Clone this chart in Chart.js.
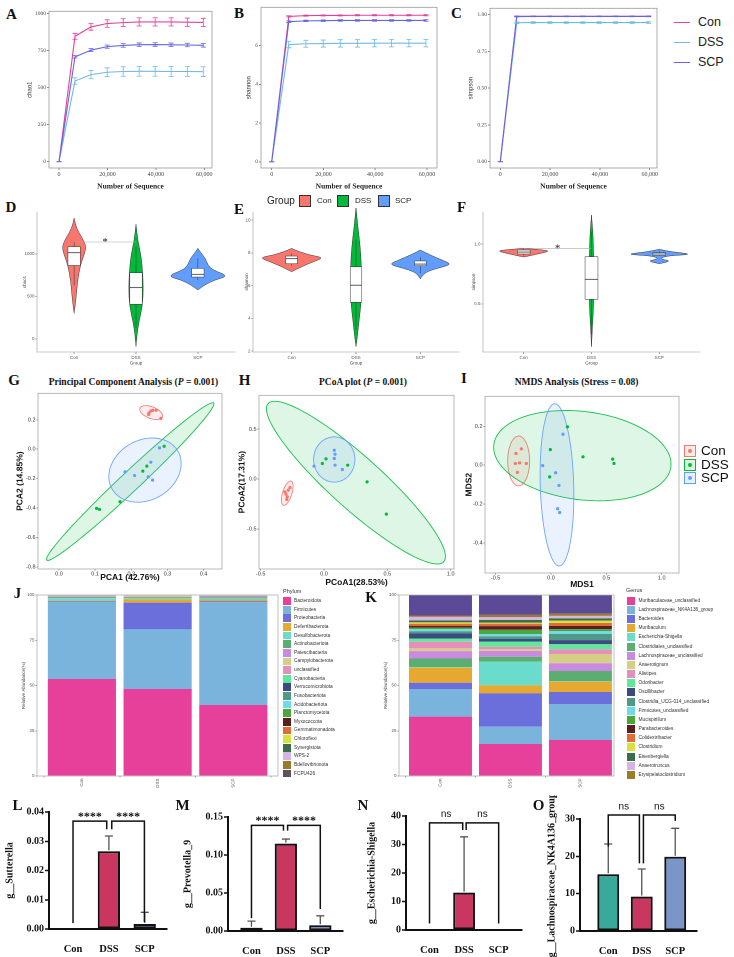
<!DOCTYPE html>
<html>
<head>
<meta charset="utf-8">
<title>Microbiota figure</title>
<script src="https://cdn.jsdelivr.net/npm/chart.js@4.4.1/dist/chart.umd.min.js"></script>
<style>
  html, body { margin: 0; padding: 0; background: #fff; }
  body { position: relative; width: 734px; height: 957px; overflow: hidden; font-family: "Liberation Sans", Arial, sans-serif; color: #222; }
  canvas { position: absolute; }
  .t { position: absolute; white-space: nowrap; line-height: 1; }
  .c { transform: translate(-50%, -50%); }
  .m { transform: translateY(-50%); }
  .letter { font: bold 15px "Liberation Serif", serif; color: #111; }
  .ttl { font: bold 9.5px "Liberation Serif", serif; color: #111; }
  .sw { position: absolute; box-sizing: border-box; }
</style>
</head>
<body>
<script>
const SERIF = '"Liberation Serif", "Times New Roman", serif';
const SANS = '"Liberation Sans", Arial, sans-serif';

// ---------- shared ----------
const groups = ['Con', 'DSS', 'SCP'];
const groupPos = [1, 2, 3];
const lineColors = ['#e4409a', '#6fb9e2', '#6565e4'];
const ggColors = ['#f8766d', '#00ba38', '#619cff'];
const barColors = ['#38a99a', '#c9365f', '#7c95c7'];

// ---------- A-C rarefaction curves ----------
const seqDepth = [0, 6600, 13200, 19900, 26500, 33100, 39700, 46300, 53000, 59600];
const seqTicks = [0, 20000, 40000, 60000];
const chaoCon = [0, 847, 910, 933, 939, 944, 944, 944, 942, 940];
const chaoDSS = [0, 545, 588, 604, 609, 610, 610, 609, 609, 608];
const chaoSCP = [0, 708, 753, 777, 785, 790, 791, 789, 788, 786];
const chaoConSd = [0, 20, 22, 25, 26, 28, 28, 28, 28, 28];
const chaoDSSSd = [0, 22, 28, 30, 32, 33, 33, 33, 33, 33];
const chaoSCPSd = [0, 8, 10, 11, 12, 12, 12, 12, 12, 12];
const shanCon = [0, 7.50, 7.54, 7.55, 7.55, 7.56, 7.56, 7.56, 7.56, 7.56];
const shanDSS = [0, 6.05, 6.09, 6.10, 6.11, 6.11, 6.12, 6.12, 6.12, 6.12];
const shanSCP = [0, 7.23, 7.27, 7.28, 7.29, 7.29, 7.29, 7.29, 7.29, 7.29];
const shanConSd = [0, 0.03, 0.03, 0.03, 0.03, 0.03, 0.03, 0.03, 0.03, 0.03];
const shanDSSSd = [0, 0.17, 0.18, 0.18, 0.19, 0.19, 0.19, 0.19, 0.19, 0.19];
const shanSCPSd = [0, 0.04, 0.04, 0.04, 0.04, 0.04, 0.04, 0.04, 0.04, 0.04];
const simpCon = [0, 0.989, 0.989, 0.989, 0.989, 0.989, 0.989, 0.989, 0.989, 0.989];
const simpDSS = [0, 0.945, 0.946, 0.946, 0.946, 0.946, 0.946, 0.946, 0.946, 0.946];
const simpSCP = [0, 0.987, 0.988, 0.988, 0.988, 0.988, 0.988, 0.988, 0.988, 0.988];
const simpConSd = [0, 0.002, 0.002, 0.002, 0.002, 0.002, 0.002, 0.002, 0.002, 0.002];
const simpDSSSd = [0, 0.005, 0.005, 0.005, 0.005, 0.005, 0.005, 0.005, 0.005, 0.005];
const simpSCPSd = [0, 0.002, 0.002, 0.002, 0.002, 0.002, 0.002, 0.002, 0.002, 0.002];
const chaoTicks = [0, 250, 500, 750, 1000];
const shanTicks = [0, 2, 4, 6];
const simpTicks = [0, 0.25, 0.5, 0.75, 1];

// ---------- D-F violins (y value, half width in group units) ----------
const chaoVioY = [
  [1424, 1302, 1185, 1086, 988, 870, 674, 478, 302],
  [1349, 1145, 988, 792, 596, 400, 204, 47, -90],
  [1067, 1008, 949, 870, 811, 741, 694, 635, 576]
];
const chaoVioW = [
  [0, 0.037, 0.134, 0.197, 0.161, 0.102, 0.053, 0.032, 0],
  [0, 0.032, 0.081, 0.108, 0.118, 0.108, 0.048, 0.016, 0],
  [0, 0.054, 0.121, 0.161, 0.242, 0.497, 0.269, 0.108, 0]
];
const chaoBox = [[865, 1015, 1086, 630, 1145], [408, 604, 780, 130, 1086], [729, 761, 831, 694, 949]];
const shanVioY = [
  [8.27, 8.07, 7.86, 7.70, 7.45, 7.15, 6.84],
  [10.8, 9.8, 8.8, 7.8, 6.8, 5.8, 4.8, 3.8, 2.8, 2.27],
  [8.17, 7.86, 7.56, 7.29, 7.05, 6.84, 6.68, 6.54, 6.40]
];
const shanVioW = [
  [0, 0.116, 0.283, 0.502, 0.335, 0.155, 0],
  [0, 0.023, 0.054, 0.077, 0.085, 0.085, 0.077, 0.046, 0.019, 0],
  [0, 0.155, 0.335, 0.495, 0.258, 0.103, 0.052, 0.021, 0]
];
const shanBox = [[7.33, 7.64, 7.80, 7.22, 7.95], [4.98, 6.02, 7.15, 3.3, 8.8], [7.21, 7.31, 7.50, 6.75, 7.76]];
const simpVioY = [
  [0.964, 0.953, 0.942, 0.922, 0.903, 0.892],
  [1.242, 1.103, 0.964, 0.70, 0.464, 0.325, 0.144],
  [0.956, 0.936, 0.914, 0.903, 0.885, 0.872, 0.858, 0.836]
];
const simpVioW = [
  [0, 0.246, 0.393, 0.246, 0.098, 0],
  [0, 0.02, 0.03, 0.035, 0.03, 0.015, 0],
  [0, 0.172, 0.504, 0.147, 0.02, 0.049, 0.172, 0]
];
const simpBox = [[0.917, 0.933, 0.95, 0.905, 0.96], [0.539, 0.706, 0.894, 0.25, 1.1], [0.905, 0.917, 0.928, 0.9, 0.94]];

// ---------- G-I ordination ----------
const pcaCon = [[0.249, 0.246], [0.254, 0.260], [0.260, 0.265], [0.269, 0.265], [0.282, 0.210], [0.248, 0.236]];
const pcaDSS = [[0.104, -0.402], [0.112, -0.409], [0.169, -0.357], [0.232, -0.149], [0.243, -0.115], [0.291, 0.020]];
const pcaSCP = [[0.183, -0.154], [0.209, -0.179], [0.247, -0.188], [0.254, -0.088], [0.259, -0.210], [0.278, 0.009]];
const pcoaCon = [[-0.308, -0.127], [-0.300, -0.150], [-0.290, -0.177], [-0.282, -0.110], [-0.268, -0.083], [-0.294, -0.203]];
const pcoaDSS = [[-0.013, 0.157], [0.016, 0.203], [0.187, 0.140], [0.340, -0.027], [0.492, -0.350]];
const pcoaSCP = [[-0.079, 0.130], [0.081, 0.290], [0.087, 0.250], [0.081, 0.207], [0.087, 0.140], [0.145, 0.097]];
const nmdsCon = [[-0.316, 0.060], [-0.268, 0.084], [-0.322, 0.009], [-0.283, 0.012], [-0.223, 0.009], [-0.304, -0.037]];
const nmdsDSS = [[0.148, 0.197], [-0.006, 0.080], [-0.012, -0.060], [0.289, 0.043], [0.557, 0.031], [0.569, 0.009]];
const nmdsSCP = [[0.108, 0.159], [-0.075, -0.002], [0.042, -0.039], [0.072, -0.104], [0.060, -0.224], [0.078, -0.243]];
// confidence ellipses: centre x, centre y, axis-1 (dx, dy), axis-2 (dx, dy)
const pcaEll = [[0.255, 0.249, 0.0313, -0.017, -0.0036, 0.044], [0.197, -0.220, 0.231, 0.534, 0.0185, -0.048], [0.238, -0.142, 0.091, 0.129, 0.0416, -0.176]];
const pcoaEll = [[-0.29, -0.14, 0.030, 0.121, 0.035, -0.014], [0.252, -0.035, 0.693, -0.792, 0.137, 0.193], [0.081, 0.197, 0.163, 0, 0, 0.227]];
const nmdsEll = [[-0.292, 0.022, 0.099, 0, 0, 0.128], [0.283, 0.049, 0.801, -0.043, 0, 0.228], [0.054, -0.101, 0.151, 0, -0.02, 0.417]];

// ---------- J phylum composition (%) ----------
const phyla = ['Bacteroidota', 'Firmicutes', 'Proteobacteria', 'Deferribacterota', 'Desulfobacterota', 'Actinobacteriota', 'Patescibacteria', 'Campylobacterota', 'unclassified', 'Cyanobacteria', 'Verrucomicrobiota', 'Fusobacteriota', 'Acidobacteriota', 'Planctomycetota', 'Myxococcota', 'Gemmatimonadota', 'Chloroflexi', 'Synergistota', 'WPS-2', 'Bdellovibrionota', 'FCPU426'];
const phylumCon = [53.6, 42.7, 0.4, 0.3, 1.3, 0.5, 0.5, 0.2, 0.2, 0.1, 0.05, 0.03, 0.03, 0.03, 0.02, 0.02, 0.02, 0.02, 0.02, 0.01, 0.01];
const phylumDSS = [48.1, 32.9, 14.8, 1.8, 0.7, 0.4, 0.3, 0.6, 0.2, 0.1, 0.03, 0.02, 0.02, 0.02, 0.01, 0.01, 0.01, 0.01, 0.01, 0.01, 0.01];
const phylumSCP = [39.2, 56.8, 0.6, 0.9, 0.9, 0.5, 0.6, 0.2, 0.2, 0.05, 0.03, 0.02, 0.02, 0.02, 0.01, 0.01, 0.01, 0.01, 0.01, 0.01, 0.01];
const phylumColors = ['#e6409b', '#7ab4dc', '#6b6fdc', '#e6a82e', '#6adccb', '#5aaf70', '#c98adf', '#d4cf85', '#e58fbd', '#5fe89a', '#3d4a80', '#4e9a87', '#6fdbe8', '#4aa73a', '#5a2020', '#e06d36', '#d8e23e', '#3a6e4a', '#d6b4e4', '#9a7b2a', '#5e5060'];

// ---------- K genus composition (%) ----------
const genera = ['Muribaculaceae_unclassified', 'Lachnospiraceae_NK4A136_group', 'Bacteroides', 'Muribaculum', 'Escherichia-Shigella', 'Clostridiales_unclassified', 'Lachnospiraceae_unclassified', 'Anaerotignum', 'Alistipes', 'Odoribacter', 'Oscillibacter', 'Clostridia_UCG-014_unclassified', 'Firmicutes_unclassified', 'Mucispirillum', 'Parabacteroides', 'Colidextribacter', 'Clostridium', 'Eisenbergiella', 'Anaerotruncus', 'Erysipelatoclostridium', 'Others'];
const genusCon = [32.8, 15.3, 3.4, 8.3, 0.3, 4.8, 4.1, 1.5, 3.7, 1.8, 2.8, 1.2, 1.1, 0.8, 1.0, 1.2, 0.8, 1.0, 2.0, 0.8, 11.3];
const genusDSS = [17.7, 9.6, 18.4, 4.4, 13.0, 2.8, 3.2, 1.1, 1.2, 2.9, 1.5, 1.3, 1.2, 2.5, 2.0, 1.3, 0.6, 1.5, 1.5, 1.3, 11.0];
const genusSCP = [19.9, 19.9, 6.6, 5.7, 0.2, 5.7, 4.3, 5.1, 2.6, 2.8, 2.3, 3.4, 1.6, 1.0, 1.8, 1.6, 1.4, 1.2, 1.4, 1.2, 10.3];
const genusColors = ['#e6409b', '#7ab4dc', '#6b6fdc', '#e6a82e', '#6adccb', '#5aaf70', '#c98adf', '#d4cf85', '#e58fbd', '#5fe89a', '#3d4a80', '#4e9a87', '#6fdbe8', '#4aa73a', '#5a2020', '#e06d36', '#d8e23e', '#3a6e4a', '#d6b4e4', '#9a7b2a', '#5c4a98'];
const pctTicks = [0, 25, 50, 75, 100];

// ---------- L-O genus abundance (mean, SD) ----------
const sutterella = [0, 0.0266, 0.0017];
const sutterellaSd = [0, 0.0052, 0.0040];
const prevotella = [0.0043, 0.115, 0.0075];
const prevotellaSd = [0.0087, 0.006, 0.0125];
const escherichia = [0, 13.1, 0];
const escherichiaSd = [0, 19.6, 0];
const lachnoNK = [15.2, 9.2, 19.9];
const lachnoNKSd = [8.1, 7.4, 7.6];

// ---------- helpers ----------
Chart.defaults.animation = false;
Chart.defaults.responsive = false;
Chart.defaults.maintainAspectRatio = false;
Chart.defaults.devicePixelRatio = 2;
Chart.defaults.font.family = SANS;
Chart.defaults.plugins.legend.display = false;
Chart.defaults.plugins.tooltip.enabled = false;

function canvasAt(area, pad) {
  const c = document.createElement('canvas');
  const w = area[2] - area[0] + pad[0] + pad[2];
  const h = area[3] - area[1] + pad[1] + pad[3];
  c.width = w; c.height = h;
  c.style.left = (area[0] - pad[0]) + 'px';
  c.style.top = (area[1] - pad[1]) + 'px';
  document.body.appendChild(c);
  return c;
}
const layoutFor = pad => ({ padding: { left: 0, top: pad[1], right: pad[2], bottom: 0 } });
const setTicks = arr => s => { s.ticks = arr.map(v => ({ value: v })); };

function txt(html, x, y, cls, css) {
  const d = document.createElement('div');
  d.className = 't ' + (cls || '');
  d.innerHTML = html;
  d.style.left = x + 'px';
  d.style.top = y + 'px';
  if (css) d.style.cssText += css;
  document.body.appendChild(d);
  return d;
}
function swatch(x, y, w, h, css) {
  const d = document.createElement('div');
  d.className = 'sw';
  d.style.cssText += `left:${x}px;top:${y}px;width:${w}px;height:${h}px;` + css;
  document.body.appendChild(d);
  return d;
}

function framePlugin(color) {
  return {
    id: 'frame',
    afterDatasetsDraw(chart) {
      const a = chart.chartArea, ctx = chart.ctx;
      ctx.save();
      ctx.strokeStyle = color; ctx.lineWidth = 0.8;
      ctx.strokeRect(a.left, a.top, a.right - a.left, a.bottom - a.top);
      ctx.restore();
    }
  };
}

function lineErrors(cap) {
  return {
    id: 'lineErrors',
    afterDatasetsDraw(chart) {
      const { ctx, scales: { x, y } } = chart;
      ctx.save();
      chart.data.datasets.forEach(ds => {
        ctx.strokeStyle = ds.borderColor; ctx.lineWidth = 0.8;
        ds.data.forEach((p, j) => {
          const e = ds.sd[j];
          const px = x.getPixelForValue(p.x), y1 = y.getPixelForValue(p.y - e), y2 = y.getPixelForValue(p.y + e);
          ctx.beginPath();
          ctx.moveTo(px, y1); ctx.lineTo(px, y2);
          ctx.moveTo(px - cap, y1); ctx.lineTo(px + cap, y1);
          ctx.moveTo(px - cap, y2); ctx.lineTo(px + cap, y2);
          ctx.stroke();
        });
      });
      ctx.restore();
    }
  };
}

function smoothClosed(ctx, pts) {
  const n = pts.length;
  const mid = (a, b) => [(a[0] + b[0]) / 2, (a[1] + b[1]) / 2];
  const start = mid(pts[n - 1], pts[0]);
  ctx.moveTo(start[0], start[1]);
  for (let i = 0; i < n; i++) {
    const p = pts[i], m = mid(p, pts[(i + 1) % n]);
    ctx.quadraticCurveTo(p[0], p[1], m[0], m[1]);
  }
  ctx.closePath();
}

function violinPlugin(ys, ws, boxes, boxHalf, sig) {
  return {
    id: 'violins',
    afterDatasetsDraw(chart) {
      const { ctx, scales: { x, y } } = chart;
      ctx.save();
      ys.forEach((yv, g) => {
        const c = groupPos[g], w = ws[g];
        const pts = [];
        yv.forEach((v, i) => pts.push([x.getPixelForValue(c - w[i]), y.getPixelForValue(v)]));
        for (let i = yv.length - 1; i >= 0; i--) pts.push([x.getPixelForValue(c + w[i]), y.getPixelForValue(yv[i])]);
        ctx.beginPath();
        smoothClosed(ctx, pts);
        ctx.fillStyle = ggColors[g]; ctx.fill();
        ctx.lineWidth = 0.5; ctx.strokeStyle = '#333'; ctx.stroke();
        const [q1, md, q3, lo, hi] = boxes[g];
        const xl = x.getPixelForValue(c - boxHalf), xr = x.getPixelForValue(c + boxHalf), xc = x.getPixelForValue(c);
        ctx.beginPath();
        ctx.moveTo(xc, y.getPixelForValue(hi)); ctx.lineTo(xc, y.getPixelForValue(q3));
        ctx.moveTo(xc, y.getPixelForValue(q1)); ctx.lineTo(xc, y.getPixelForValue(lo));
        ctx.stroke();
        const top = y.getPixelForValue(q3), bot = y.getPixelForValue(q1);
        ctx.fillStyle = '#fff';
        ctx.fillRect(xl, top, xr - xl, bot - top);
        ctx.strokeRect(xl, top, xr - xl, bot - top);
        ctx.beginPath();
        ctx.moveTo(xl, y.getPixelForValue(md)); ctx.lineTo(xr, y.getPixelForValue(md));
        ctx.lineWidth = 0.8; ctx.stroke();
      });
      if (sig) {
        const x1 = x.getPixelForValue(sig[0]), x2 = x.getPixelForValue(sig[1]), py = y.getPixelForValue(sig[2]);
        ctx.strokeStyle = '#aaa'; ctx.lineWidth = 0.6;
        ctx.beginPath(); ctx.moveTo(x1, py); ctx.lineTo(x2, py); ctx.stroke();
        ctx.fillStyle = '#111'; ctx.font = '11px ' + SERIF; ctx.textAlign = 'center'; ctx.textBaseline = 'alphabetic';
        ctx.fillText(sig[3], (x1 + x2) / 2, py + 3);
      }
      ctx.restore();
    }
  };
}

function ellipsePlugin(list) {
  return {
    id: 'ellipses',
    beforeDatasetsDraw(chart) {
      const { ctx, scales: { x, y } } = chart;
      ctx.save();
      list.forEach(([cx, cy, ax, ay, bx, by], g) => {
        ctx.beginPath();
        for (let k = 0; k <= 96; k++) {
          const t = k / 96 * Math.PI * 2;
          const px = x.getPixelForValue(cx + ax * Math.cos(t) + bx * Math.sin(t));
          const py = y.getPixelForValue(cy + ay * Math.cos(t) + by * Math.sin(t));
          if (k) ctx.lineTo(px, py); else ctx.moveTo(px, py);
        }
        ctx.closePath();
        ctx.globalAlpha = 0.13; ctx.fillStyle = ggColors[g]; ctx.fill();
        ctx.globalAlpha = 0.9; ctx.strokeStyle = ggColors[g]; ctx.lineWidth = 0.9; ctx.stroke();
        ctx.globalAlpha = 1;
      });
      ctx.restore();
    }
  };
}

function barErrors(cap) {
  return {
    id: 'barErrors',
    afterDatasetsDraw(chart) {
      const { ctx, scales: { x, y } } = chart;
      const ds = chart.data.datasets[0];
      ctx.save();
      ctx.strokeStyle = '#555'; ctx.lineWidth = 1.3;
      ds.data.forEach((p, j) => {
        const e = ds.sd[j];
        if (!e) return;
        const px = x.getPixelForValue(p.x), y0 = y.getPixelForValue(p.y) - 1, y1 = y.getPixelForValue(p.y + e);
        ctx.beginPath();
        ctx.moveTo(px, y0); ctx.lineTo(px, y1);
        ctx.moveTo(px - cap, y1); ctx.lineTo(px + cap, y1);
        ctx.stroke();
      });
      ctx.restore();
    }
  };
}

function bracketPlugin(items, label, font, gap) {
  return {
    id: 'brackets',
    afterDraw(chart) {
      const { ctx, scales: { x, y } } = chart;
      ctx.save();
      ctx.strokeStyle = '#111'; ctx.fillStyle = '#111'; ctx.lineWidth = 1.5;
      ctx.font = font; ctx.textAlign = 'center'; ctx.textBaseline = 'alphabetic';
      items.forEach(([x1, x2, top, leg1, leg2]) => {
        const X1 = x.getPixelForValue(x1), X2 = x.getPixelForValue(x2), T = y.getPixelForValue(top);
        ctx.beginPath();
        ctx.moveTo(X1, y.getPixelForValue(leg1)); ctx.lineTo(X1, T); ctx.lineTo(X2, T); ctx.lineTo(X2, y.getPixelForValue(leg2));
        ctx.stroke();
        ctx.fillText(label, (X1 + X2) / 2, T - gap);
      });
      ctx.restore();
    }
  };
}

// ---------- panel builders ----------
function rarefaction(area, pad, series, sds, xMax, yMin, yMax, yTicks, yFmt, yTitle) {
  new Chart(canvasAt(area, pad), {
    type: 'line',
    data: {
      datasets: series.map((s, i) => ({
        label: groups[i],
        data: seqDepth.map((x, j) => ({ x, y: s[j] })),
        sd: sds[i],
        order: 2 - i,
        borderColor: lineColors[i], borderWidth: 1.1, pointRadius: 0, tension: 0
      }))
    },
    options: {
      layout: layoutFor(pad),
      scales: {
        x: {
          type: 'linear', min: -4140, max: xMax,
          afterFit: s => { s.height = pad[3]; }, afterBuildTicks: setTicks(seqTicks),
          ticks: { font: { family: SERIF, size: 6 }, color: '#444', padding: 1, maxRotation: 0, callback: v => v.toLocaleString('en-US') },
          grid: { drawOnChartArea: false, tickLength: 2, color: '#888' }, border: { display: false },
          title: { display: true, text: 'Number of Sequence', font: { family: SERIF, size: 7.5, weight: 'bold' }, color: '#222', padding: 0 }
        },
        y: {
          min: yMin, max: yMax,
          afterFit: s => { s.width = pad[0]; }, afterBuildTicks: setTicks(yTicks),
          ticks: { font: { family: SERIF, size: 5.5 }, color: '#444', padding: 1, callback: yFmt },
          grid: { drawOnChartArea: false, tickLength: 2, color: '#888' }, border: { display: false },
          title: { display: true, text: yTitle, font: { size: 6 }, color: '#333', padding: 0 }
        }
      }
    },
    plugins: [framePlugin('#9a9a9a'), lineErrors(2.5)]
  });
}

function violinPanel(area, pad, ys, ws, boxes, boxHalf, yMin, yMax, yTicks, yFmt, yTitle, sig) {
  new Chart(canvasAt(area, pad), {
    type: 'scatter',
    data: { datasets: [] },
    options: {
      layout: layoutFor(pad),
      scales: {
        x: {
          type: 'linear', min: 0.4, max: 3.6,
          afterFit: s => { s.height = pad[3]; }, afterBuildTicks: setTicks(groupPos),
          ticks: { font: { size: 4.5 }, color: '#555', padding: 1, maxRotation: 0, callback: v => groups[v - 1] },
          grid: { drawOnChartArea: false, tickLength: 2, color: '#999' }, border: { color: '#999', width: 0.6 },
          title: { display: true, text: 'Group', font: { size: 4.5 }, color: '#444', padding: 0 }
        },
        y: {
          min: yMin, max: yMax,
          afterFit: s => { s.width = pad[0]; }, afterBuildTicks: setTicks(yTicks),
          ticks: { font: { size: 4.5 }, color: '#555', padding: 1, callback: yFmt },
          grid: { drawOnChartArea: false, tickLength: 1.5, color: '#999' }, border: { color: '#999', width: 0.6 },
          title: { display: true, text: yTitle, font: { size: 4.5 }, color: '#444', padding: 0 }
        }
      }
    },
    plugins: [violinPlugin(ys, ws, boxes, boxHalf, sig)]
  });
}

function ordination(area, pad, sets, ells, xr, yr, xTicks, yTicks, xTitle, yTitle) {
  new Chart(canvasAt(area, pad), {
    type: 'scatter',
    data: {
      datasets: sets.map((pts, i) => ({
        label: groups[i],
        data: pts.map(([x, y]) => ({ x, y })),
        backgroundColor: ggColors[i], borderWidth: 0, pointRadius: 1.6
      }))
    },
    options: {
      layout: layoutFor(pad),
      scales: {
        x: {
          min: xr[0], max: xr[1],
          afterFit: s => { s.height = pad[3]; }, afterBuildTicks: setTicks(xTicks),
          ticks: { font: { size: 5.5 }, color: '#333', padding: 0, maxRotation: 0, callback: v => v.toFixed(1) },
          grid: { drawOnChartArea: false, tickLength: 1.5, color: '#888' }, border: { display: false },
          title: { display: true, text: xTitle, font: { size: 8.5, weight: 'bold' }, color: '#111', padding: 0 }
        },
        y: {
          min: yr[0], max: yr[1],
          afterFit: s => { s.width = pad[0]; }, afterBuildTicks: setTicks(yTicks),
          ticks: { font: { size: 5.5 }, color: '#333', padding: 1, callback: v => v.toFixed(1) },
          grid: { drawOnChartArea: false, tickLength: 1.5, color: '#888' }, border: { display: false },
          title: { display: true, text: yTitle, font: { size: 8.5, weight: 'bold' }, color: '#111', padding: 0 }
        }
      }
    },
    plugins: [ellipsePlugin(ells), framePlugin('#a8a8a8')]
  });
}

function composition(area, pad, names, perGroup, colors, xMax) {
  new Chart(canvasAt(area, pad), {
    type: 'bar',
    data: {
      datasets: names.map((n, k) => ({
        label: n,
        data: groupPos.map((x, g) => ({ x, y: perGroup[g][k] })),
        backgroundColor: colors[k], borderWidth: 0,
        barPercentage: 0.9, categoryPercentage: 1
      }))
    },
    options: {
      layout: layoutFor(pad),
      scales: {
        x: {
          type: 'linear', offset: false, stacked: true, min: 0.407, max: xMax,
          afterFit: s => { s.height = pad[3]; }, afterBuildTicks: setTicks(groupPos),
          ticks: { font: { size: 4.5 }, color: '#555', padding: 1, minRotation: 90, maxRotation: 90, callback: v => groups[v - 1] },
          grid: { display: true, drawOnChartArea: false, tickLength: 1.5, color: '#999' }, border: { display: false }
        },
        y: {
          stacked: true, min: 0, max: 100,
          afterFit: s => { s.width = pad[0]; }, afterBuildTicks: setTicks(pctTicks),
          ticks: { font: { size: 4.5 }, color: '#555', padding: 1 },
          grid: { drawOnChartArea: false, tickLength: 1.5, color: '#999' }, border: { display: false },
          title: { display: true, text: 'Relative Abundance(%)', font: { size: 4.5 }, color: '#444', padding: 0 }
        }
      }
    },
    plugins: [framePlugin('#b0b0b0')]
  });
}

function sigBars(cfg) {
  const pad = cfg.pad;
  new Chart(canvasAt(cfg.area, pad), {
    type: 'bar',
    data: {
      datasets: [{
        data: groupPos.map((x, g) => ({ x, y: cfg.vals[g] })),
        sd: cfg.sd,
        backgroundColor: barColors, borderColor: '#111', borderWidth: 2, borderSkipped: false,
        barPercentage: cfg.barPct, categoryPercentage: 1
      }]
    },
    options: {
      layout: layoutFor(pad),
      scales: {
        x: {
          type: 'linear', offset: false, min: cfg.xr[0], max: cfg.xr[1],
          afterFit: s => { s.height = pad[3]; }, afterBuildTicks: setTicks(groupPos),
          ticks: { font: { family: SERIF, size: 10.5, weight: 'bold' }, color: '#111', padding: 6, maxRotation: 0, callback: v => groups[v - 1] },
          grid: { display: false }, border: { color: '#111', width: 2 }
        },
        y: {
          min: 0, max: cfg.yMax,
          afterFit: s => { s.width = pad[0]; }, afterBuildTicks: setTicks(cfg.yTicks),
          ticks: { font: { family: SERIF, size: 10, weight: 'bold' }, color: '#111', padding: 1, callback: cfg.yFmt },
          grid: { drawOnChartArea: false, tickLength: 4, tickWidth: 1.5, tickColor: '#111' }, border: { color: '#111', width: 2 },
          title: { display: true, text: cfg.title, font: { family: SERIF, size: 10, weight: 'bold' }, color: '#111', padding: 0 }
        }
      }
    },
    plugins: [barErrors(4), bracketPlugin(cfg.brackets, cfg.label, cfg.font, cfg.gap)]
  });
}

// ---------- row 1: rarefaction ----------
rarefaction([49, 11, 212, 168], [23, 4, 12, 23], [chaoCon, chaoDSS, chaoSCP], [chaoConSd, chaoDSSSd, chaoSCPSd],
  63190, -42.5, 1015.5, chaoTicks, v => String(v), 'chao1');
rarefaction([261, 7, 437, 168], [16, 4, 12, 23], [shanCon, shanDSS, shanSCP], [shanConSd, shanDSSSd, shanSCPSd],
  63860, -0.32, 7.97, shanTicks, v => String(v), 'shannon');
rarefaction([490, 8, 657, 168], [23, 4, 12, 23], [simpCon, simpDSS, simpSCP], [simpConSd, simpDSSSd, simpSCPSd],
  62930, -0.043, 1.043, simpTicks, v => v.toFixed(2), 'simpson');

// ---------- row 2: violins ----------
violinPanel([37, 212, 235, 352], [15, 4, 6, 14], chaoVioY, chaoVioW, chaoBox, 0.1, -153, 1494, [0, 500, 1000], v => String(v), 'chao1', [1, 2, 1141, '*']);
violinPanel([253, 212, 459, 352], [9, 4, 6, 14], shanVioY, shanVioW, shanBox, 0.09, 1.94, 10.49, [2, 4, 6, 8, 10], v => String(v), 'shannon', null);
violinPanel([483, 212, 700, 352], [12, 4, 6, 14], simpVioY, simpVioW, simpBox, 0.095, 0.1, 1.267, [0.5, 1.0], v => v.toFixed(1), 'simpson', [1, 2, 0.964, '*']);

// ---------- row 3: ordination ----------
ordination([38, 393, 222, 569], [23, 4, 6, 14], [pcaCon, pcaDSS, pcaSCP], pcaEll, [-0.058, 0.451], [-0.814, 0.38],
  [0, 0.1, 0.2, 0.3, 0.4], [-0.8, -0.6, -0.4, -0.2, 0, 0.2], 'PCA1 (42.76%)', 'PCA2 (14.85%)');
ordination([259, 395, 454, 569], [22, 4, 6, 19], [pcoaCon, pcoaDSS, pcoaSCP], pcoaEll, [-0.513, 1.026], [-0.9, 0.84],
  [-0.5, 0, 0.5, 1.0], [-0.5, 0, 0.5], 'PCoA1(28.53%)', 'PCoA2(17.31%)');
ordination([485, 396, 679, 573], [21, 4, 6, 17], [nmdsCon, nmdsDSS, nmdsSCP], nmdsEll, [-0.596, 1.156], [-0.554, 0.354],
  [-0.5, 0, 0.5, 1.0], [-0.4, -0.2, 0, 0.2], 'MDS1', 'MDS2');

// ---------- row 4: composition ----------
composition([37, 595, 278, 776], [16, 4, 3, 12], phyla, [phylumCon, phylumDSS, phylumSCP], phylumColors, 3.59);
composition([399, 595, 614, 776], [16, 4, 3, 12], genera, [genusCon, genusDSS, genusSCP], genusColors, 3.48);

// ---------- row 5: genus bars ----------
sigBars({ area: [49, 812, 167, 929], pad: [45, 17, 4, 28], vals: sutterella, sd: sutterellaSd, barPct: 0.62,
  xr: [0.33, 3.62], yMax: 0.04, yTicks: [0, 0.01, 0.02, 0.03, 0.04], yFmt: v => v.toFixed(2), title: 'g__Sutterella',
  brackets: [[1, 1.94, 0.0369, 0.002, 0.0341], [2.08, 2.99, 0.0369, 0.0341, 0.0024]], label: '****', font: 'bold 12px ' + SERIF, gap: 1 });
sigBars({ area: [228, 817, 343, 931], pad: [46, 22, 4, 26], vals: prevotella, sd: prevotellaSd, barPct: 0.645,
  xr: [0.318, 3.66], yMax: 0.15, yTicks: [0, 0.05, 0.10, 0.15], yFmt: v => v.toFixed(2), title: 'g__Prevotella_9',
  brackets: [[1, 1.93, 0.139, 0.017, 0.132], [2.05, 3, 0.139, 0.132, 0.029]], label: '****', font: 'bold 12px ' + SERIF, gap: 1.5 });
sigBars({ area: [406, 816, 522, 930], pad: [40, 21, 4, 27], vals: escherichia, sd: escherichiaSd, barPct: 0.63,
  xr: [0.32, 3.675], yMax: 40, yTicks: [0, 10, 20, 30, 40], yFmt: v => String(v), title: 'g__Escherichia-Shigella',
  brackets: [[1, 1.96, 37.6, 2.3, 35.1], [2.06, 3, 37.6, 35.1, 2.3]], label: 'ns', font: '10px ' + SANS, gap: 6 });
sigBars({ area: [580, 819, 697, 931], pad: [34, 24, 4, 26], vals: lachnoNK, sd: lachnoNKSd, barPct: 0.65,
  xr: [0.156, 3.65], yMax: 30, yTicks: [0, 10, 20, 30], yFmt: v => String(v), title: 'g__Lachnospiraceae_NK4A136_group',
  brackets: [[1, 1.93, 31.07, 22.6, 18.1], [2.05, 3, 31.07, 18.1, 29.5]], label: 'ns', font: '10px ' + SANS, gap: 5.4 });

// ---------- text: panel letters, titles, legends ----------
const letters = [['A', 11.5, 14], ['B', 239, 13], ['C', 456.5, 13], ['D', 11, 207], ['E', 239, 209], ['F', 461.5, 207],
  ['G', 14, 379.5], ['H', 244.5, 379.5], ['I', 464, 377.5], ['J', 17.5, 592.5], ['K', 371, 596.5],
  ['L', 17.5, 805], ['M', 182.5, 805], ['N', 363, 805], ['O', 538.5, 805]];
letters.forEach(([s, x, y]) => txt(s, x, y, 'letter c'));

txt('Principal Component Analysis (<i>P</i> = 0.001)', 133.5, 382, 'ttl c');
txt('PCoA plot (<i>P</i> = 0.001)', 363, 382, 'ttl c');
txt('NMDS Analysis (Stress = 0.08)', 576.5, 382, 'ttl c');

// rarefaction legend
[22.3, 42.3, 62.3].forEach((y, i) => {
  swatch(674, y - 0.75, 16, 1.5, `background:${lineColors[i]};`);
  txt(groups[i], 698, y, 'm', 'font-size:12.5px;color:#222;');
});

// violin group legend
txt('Group', 267, 201, 'm', 'font-size:10px;color:#222;');
[[299, 317], [337, 355], [378, 395]].forEach(([bx, tx], i) => {
  swatch(bx, 195, 12, 12, `background:${ggColors[i]};border:1px solid #333;`);
  txt(groups[i], tx, 201, 'm', 'font-size:8px;color:#222;');
});

// NMDS legend
[451, 464.5, 478].forEach((y, i) => {
  swatch(684, y - 6, 12, 12, `border:1.5px solid ${ggColors[i]};background:${ggColors[i]}26;`);
  swatch(688, y - 2, 4, 4, `border-radius:50%;background:${ggColors[i]};`);
  txt(groups[i], 701, y, 'm', 'font-size:13.5px;color:#111;');
});

// phylum legend
txt('Phylum', 283, 591.5, 'm', 'font-size:5.5px;color:#333;');
phyla.forEach((n, k) => {
  const y = 601 + k * 8.63;
  swatch(283, y - 3.9, 8.3, 7.8, `background:${phylumColors[k]};`);
  txt(n, 294, y, 'm', 'font-size:4.8px;color:#333;');
});

// genus legend
txt('Genus', 626, 590.5, 'm', 'font-size:5.5px;color:#333;');
genera.slice(0, 20).forEach((n, k) => {
  const y = 600.7 + k * 9.17;
  swatch(627, y - 4, 8.3, 8, `background:${genusColors[k]};`);
  txt(n, 638.5, y, 'm', 'font-size:4.8px;color:#333;');
});
</script>
</body>
</html>
